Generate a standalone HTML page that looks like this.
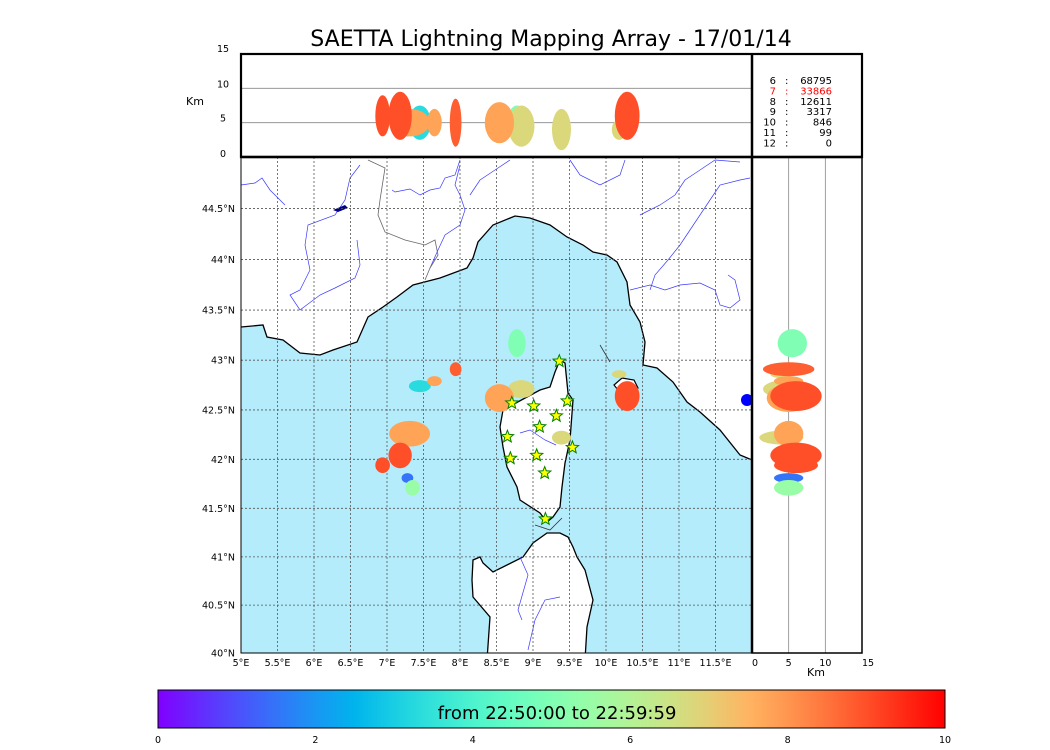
<!DOCTYPE html>
<html><head><meta charset="utf-8"><style>
html,body{margin:0;padding:0;background:#fff;}
svg{display:block;font-family:"DejaVu Sans","Liberation Sans",sans-serif;}
</style></head><body>
<svg id="chart" width="1050" height="750" viewBox="0 0 1050 750" xmlns="http://www.w3.org/2000/svg">
<defs>
<clipPath id="mapClip"><rect x="241" y="157" width="511" height="496"/></clipPath>
<clipPath id="topClip"><rect x="241" y="54" width="511" height="103"/></clipPath>
<clipPath id="sideClip"><rect x="752" y="157" width="110" height="496"/></clipPath>
<linearGradient id="cbGrad" x1="0" x2="1" y1="0" y2="0"></linearGradient>
</defs>
<text x="551" y="46" text-anchor="middle" font-size="22">SAETTA Lightning Mapping Array - 17/01/14</text>

<g clip-path="url(#mapClip)">
<rect x="241" y="157" width="511" height="496" fill="#fff"/>
<path fill="#b5ecfb" stroke="#000" stroke-width="1.3" d="M241,327 L263,325 L267,337 L283,340 L300,353 L320,355 L333,350 L357,342 L368,317 L383,307 L397,297 L413,285 L440,278 L467,268 L473,258 L478,242 L493,225 L515,216 L530,218 L550,225 L567,237 L583,245 L593,252 L607,255 L617,262 L627,282 L630,305 L640,322 L645,342 L643,365 L657,368 L673,382 L687,402 L700,412 L720,430 L740,455 L752,460 L760,700 L230,700 L230,327 Z"/>
<path fill="#fff" stroke="#000" stroke-width="1.3" d="M560,360 L565,363 L568,393 L573,400 L570,440 L565,463 L562,487 L560,507 L553,517 L547,522 L540,513 L520,500 L517,487 L507,467 L503,447 L500,427 L503,410 L527,397 L540,390 L550,387 L555,372 Z"/>
<path fill="#fff" stroke="#000" stroke-width="1.3" d="M547,533 L560,533 L568,537 L573,547 L577,557 L585,570 L593,600 L587,627 L585,660 L487,660 L490,617 L473,597 L472,580 L473,560 L480,557 L483,563 L493,572 L523,557 L533,543 Z"/>
<path fill="#fff" stroke="#000" stroke-width="1.2" d="M614,385 L622,378 L634,380 L638,388 L628,392 L618,390 Z"/>
<g fill="none" stroke="#3a3aff" stroke-width="0.7">
<path d="M241,185 L255,183 L262,178 L270,190 L285,205"/>
<path d="M360,165 L350,178 L345,200 L335,215 L308,225 L305,245 L310,270 L300,290 L290,295 L300,310 L320,295 L335,288 L355,278 L360,265 L357,240"/>
<path d="M392,190 L395,192 L410,189 L420,195 L430,190 L440,188 L445,178 L455,175 L460,160"/>
<path d="M460,165 L455,185 L460,195 L465,210 L460,225 L445,235 L438,250 L430,268"/>
<path d="M510,160 L495,170 L480,180 L470,195"/>
<path d="M570,160 L580,175 L600,185 L620,175 L625,160"/>
<path d="M640,215 L660,205 L675,195 L685,180 L700,170 L715,160 L740,162"/>
<path d="M650,290 L655,275 L668,260 L680,245 L690,230 L700,215 L710,200 L720,185 L740,180 L750,178"/>
<path d="M630,290 L650,285 L665,290 L680,285 L700,283 L715,290 L720,305 L730,308 L740,300 L735,280 L728,275"/>
<path d="M520,433 L530,430 L545,440 L556,445"/>
<path d="M520,557 L528,575 L518,610 L522,620"/>
<path d="M560,597 L545,600 L535,620 L528,650"/>
</g>
<g fill="none" stroke="#666" stroke-width="0.8">
<path d="M368,160 L385,168 L380,200 L378,215 L385,232 L405,240 L425,245 L435,240 L438,255 L430,268 L425,280"/>
</g>
<path d="M333,210 L345,205 L348,208 L338,212 Z" fill="#00008b"/>
<path d="M600,345 L610,362" stroke="#333" stroke-width="0.8" fill="none"/>
<path d="M535,525 L550,530 L562,518" stroke="#333" stroke-width="0.8" fill="none"/>
<g id="mapGrid"></g>
<g id="mapMarks"></g>
<g id="stations"></g>
</g>

<g clip-path="url(#topClip)">
<rect x="241" y="54" width="511" height="103" fill="#fff"/>
<g id="topGrid"></g>
<g id="topMarks"></g>
</g>
<g clip-path="url(#sideClip)">
<rect x="752" y="157" width="110" height="496" fill="#fff"/>
<g id="sideGrid"></g>
<g id="sideMarks"></g>
</g>
<circle cx="747" cy="400" r="6" fill="#0000ff"/>

<g fill="none" stroke="#000">
<rect x="241" y="157" width="511" height="496" stroke-width="1"/>
<rect x="752" y="157" width="110" height="496" stroke-width="1.5"/>
<rect x="241" y="54" width="621" height="103" stroke-width="2.2"/>
<line x1="752" y1="54" x2="752" y2="653" stroke-width="2.5"/>
<line x1="241" y1="157" x2="862" y2="157" stroke-width="2.5"/>
</g>

<g id="legend" font-size="10"></g>
<g id="axes" font-size="9.5"></g>

<g>
<rect x="158" y="690" width="787" height="38" fill="url(#cbGrad)" stroke="#000" stroke-width="1"/>
<text x="557" y="719" text-anchor="middle" font-size="18">from 22:50:00 to 22:59:59</text>
<g id="cbTicks" font-size="9.5"></g>
</g>
</svg>
<script>
// ---- data ----
const clusterLon = [8.78, 7.94, 7.45, 7.65, 7.31, 7.18, 6.94, 7.28, 7.35, 8.54, 8.84, 9.39, 10.29, 10.18];
const clusterLat = [43.17, 42.91, 42.74, 42.79, 42.26, 42.04, 41.94, 41.81, 41.71, 42.62, 42.71, 42.22, 42.64, 42.86];
const clusterSpreadLon = [0.12, 0.08, 0.15, 0.10, 0.28, 0.16, 0.10, 0.08, 0.10, 0.20, 0.18, 0.13, 0.17, 0.10];
const clusterSpreadLat = [0.14, 0.07, 0.06, 0.05, 0.13, 0.13, 0.08, 0.05, 0.08, 0.14, 0.09, 0.07, 0.15, 0.04];
const clusterAlt = [5.5, 5, 5, 5, 5, 6, 6, 5, 5, 5, 4.5, 4, 6, 4];
const clusterSpreadAlt = [2, 3.5, 2.5, 2, 2, 3.5, 3, 2, 2, 3, 3, 3, 3.5, 1.5];
const clusterTime = [5, 8.8, 3.3, 7.8, 7.8, 9, 9, 1.5, 5.5, 7.8, 6.8, 6.8, 9, 6.8];
const stationLon = [9.36, 9.47, 8.71, 9.01, 9.32, 9.09, 8.65, 9.54, 9.05, 8.69, 9.16, 9.17];
const stationLat = [42.99, 42.59, 42.57, 42.54, 42.44, 42.33, 42.23, 42.12, 42.04, 42.01, 41.86, 41.39];
const legendStations = ["6", "7", "8", "9", "10", "11", "12"];
const legendCounts = ["68795", "33866", "12611", "3317", "846", "99", "0"];
const lonTicks = [5, 5.5, 6, 6.5, 7, 7.5, 8, 8.5, 9, 9.5, 10, 10.5, 11, 11.5];
const latTicks = [40, 40.5, 41, 41.5, 42, 42.5, 43, 43.5, 44, 44.5];
const altTicks = [0, 5, 10, 15];
const cbTicks = [0, 2, 4, 6, 8, 10];

// ---- scales ----
const NS = "http://www.w3.org/2000/svg";
const merc = l => Math.log(Math.tan(Math.PI/4 + l*Math.PI/360));
const xLon = lon => 241 + (lon - 5) * 511 / 7;
const yLat = lat => 653 - (merc(lat) - merc(40)) * 496 / (merc(45) - merc(40));
const yAlt = a => 157 - a * 103 / 15;
const xAlt = a => 752 + a * 110 / 15;
const xCb = v => 158 + v * 787 / 10;
function rainbow(v){ const x = Math.max(0, Math.min(1, v/10));
  const c = t => Math.round(255*Math.max(0, Math.min(1, t)));
  return `rgb(${c(Math.abs(2*x-0.5))},${c(Math.sin(Math.PI*x))},${c(Math.cos(Math.PI*x/2))})`; }
function mk(tag, attrs, parent){ const e = document.createElementNS(NS, tag);
  for (const k in attrs) e.setAttribute(k, attrs[k]); parent.appendChild(e); return e; }

const grad = document.getElementById('cbGrad');
for (let i = 0; i <= 20; i++) mk('stop', {offset: i/20, 'stop-color': rainbow(i/2)}, grad);

const mg = document.getElementById('mapGrid');
lonTicks.forEach(t => mk('line', {x1: xLon(t), x2: xLon(t), y1: 157, y2: 653, stroke: '#555', 'stroke-width': 0.8, 'stroke-dasharray': '2,2'}, mg));
latTicks.forEach(t => mk('line', {x1: 241, x2: 752, y1: yLat(t), y2: yLat(t), stroke: '#555', 'stroke-width': 0.8, 'stroke-dasharray': '2,2'}, mg));
const tg = document.getElementById('topGrid');
[5, 10].forEach(t => mk('line', {x1: 241, x2: 752, y1: yAlt(t), y2: yAlt(t), stroke: '#888', 'stroke-width': 0.8}, tg));
const sg = document.getElementById('sideGrid');
[5, 10].forEach(t => mk('line', {x1: xAlt(t), x2: xAlt(t), y1: 157, y2: 653, stroke: '#888', 'stroke-width': 0.8}, sg));

const order = clusterTime.map((v, i) => i).sort((a, b) => clusterTime[a] - clusterTime[b]);
const mm = document.getElementById('mapMarks'), tm = document.getElementById('topMarks'), sm = document.getElementById('sideMarks');
order.forEach(i => {
  const col = rainbow(clusterTime[i]);
  const cy = yLat(clusterLat[i]);
  const ry = Math.abs(yLat(clusterLat[i] + clusterSpreadLat[i]) - cy);
  const cx = xLon(clusterLon[i]);
  const rx = xLon(clusterLon[i] + clusterSpreadLon[i]) - cx;
  const a = mk('ellipse', {cx: cx, cy: cy, rx: rx, ry: ry, fill: col}, mm);
  
  
  const b = mk('ellipse', {cx: cx, cy: yAlt(clusterAlt[i]), rx: rx, ry: clusterSpreadAlt[i]*103/15, fill: col}, tm);
  
  
  const c = mk('ellipse', {cx: xAlt(clusterAlt[i]), cy: cy, rx: clusterSpreadAlt[i]*110/15, ry: ry, fill: col}, sm);
  
  
});

const st = document.getElementById('stations');
function starPts(cx, cy, R, r){ let p = []; for (let k = 0; k < 10; k++){ const ang = -Math.PI/2 + k*Math.PI/5; const rr = k%2 ? r : R; p.push((cx + rr*Math.cos(ang)).toFixed(1) + ',' + (cy + rr*Math.sin(ang)).toFixed(1)); } return p.join(' '); }
stationLon.forEach((lon, i) => {
  const s = mk('polygon', {points: starPts(xLon(lon), yLat(stationLat[i]), 6.5, 2.8), fill: '#ffff00', stroke: '#008000', 'stroke-width': 1}, st);
  
  
});

const lg = document.getElementById('legend');
legendStations.forEach((s, i) => {
  const y = 84 + i * 10.4, fill = i === 1 ? '#ff0000' : '#000';
  const t1 = mk('text', {x: 776, y: y, 'text-anchor': 'end', fill: fill}, lg); t1.textContent = s;
  const t2 = mk('text', {x: 785, y: y, fill: fill}, lg); t2.textContent = ':';
  const t3 = mk('text', {x: 832, y: y, 'text-anchor': 'end', fill: fill}, lg); t3.textContent = legendCounts[i];
  
  
});

const ax = document.getElementById('axes');
lonTicks.forEach(t => { const e = mk('text', {x: xLon(t), y: 666, 'text-anchor': 'middle'}, ax); e.textContent = t + '°E';
    });
latTicks.forEach(t => { const e = mk('text', {x: 235, y: yLat(t) + 3.5, 'text-anchor': 'end'}, ax); e.textContent = t + '°N';
    });
altTicks.forEach(t => { const e = mk('text', {x: 223, y: yAlt(t) + (t === 0 ? 0 : t === 15 ? -2 : -1), 'text-anchor': 'middle'}, ax); e.textContent = t;
    });
altTicks.forEach(t => { const e = mk('text', {x: xAlt(t) + (t === 0 ? 3 : t === 15 ? 6 : 0), y: 666, 'text-anchor': 'middle'}, ax); e.textContent = t;
    });
const k1 = mk('text', {x: 195, y: 105, 'text-anchor': 'middle', 'font-size': 11}, ax); k1.textContent = 'Km';
 
const k2 = mk('text', {x: 816, y: 676, 'text-anchor': 'middle', 'font-size': 11}, ax); k2.textContent = 'Km';
 

const cb = document.getElementById('cbTicks');
cbTicks.forEach(t => { const e = mk('text', {x: xCb(t), y: 743, 'text-anchor': 'middle'}, cb); e.textContent = t;
    });
</script>
</body></html>
